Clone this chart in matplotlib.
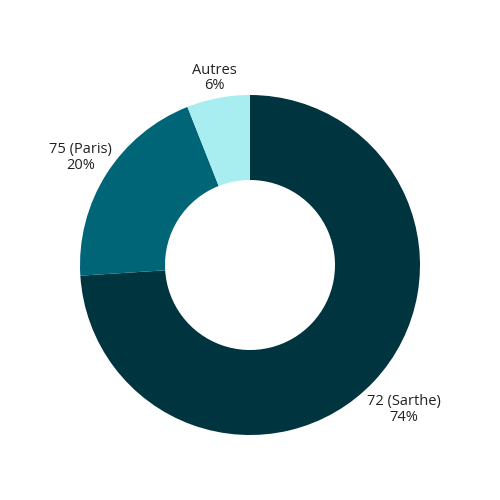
import numpy as np
import matplotlib.pyplot as plt

labels = ['72 (Sarthe)', '75 (Paris)', 'Autres']
values = [74, 20, 6]
colors = ['#00353f', '#006677', '#a8eef0']
label_dist = [1.24, 1.18, 1.12]

plt.rcParams['font.family'] = ['Open Sans', 'DejaVu Sans']

fig = plt.figure(figsize=(5, 5), dpi=100)
ax = fig.add_axes([0, 0, 1, 1])

wedges, _ = ax.pie(values, colors=colors, startangle=90, counterclock=False,
                   radius=170, center=(250, 235),
                   wedgeprops=dict(width=85, linewidth=0))

for w, lab, v, d in zip(wedges, labels, values, label_dist):
    ang = np.deg2rad((w.theta1 + w.theta2) / 2)
    x = 250 + 170 * d * np.cos(ang)
    y = 235 + 170 * d * np.sin(ang)
    ax.text(x, y, f'{lab}\n{v}%', ha='center', va='center',
            fontsize=10.5, color='#222222', linespacing=1.05)

ax.set_xlim(0, 500)
ax.set_ylim(0, 500)
ax.set_aspect('equal')
ax.axis('off')

fig.savefig('out.png', dpi=100)
